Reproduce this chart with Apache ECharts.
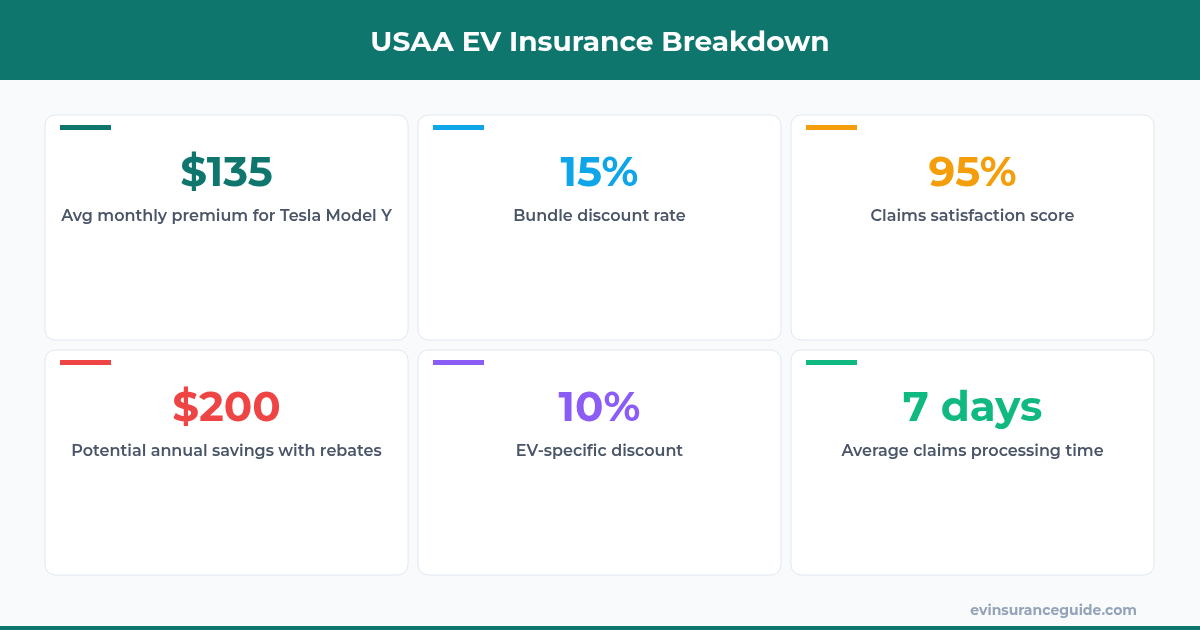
<!DOCTYPE html>
<html>
<head>
<meta charset="utf-8">
<script src="https://cdn.jsdelivr.net/npm/echarts@6/dist/echarts.min.js"></script>
<style>html,body{margin:0;padding:0;background:#f8fafc}#chart{width:1200px;height:630px}</style>
</head>
<body>
<div id="chart"></div>
<script>
const chartTitle = 'USAA EV Insurance Breakdown';
const footerText = 'evinsuranceguide.com';
const metricValues = ['$135', '15%', '95%', '$200', '10%', '7 days'];
const metricLabels = [
  'Avg monthly premium for Tesla Model Y',
  'Bundle discount rate',
  'Claims satisfaction score',
  'Potential annual savings with rebates',
  'EV-specific discount',
  'Average claims processing time'
];
const columnCategories = ['c1', 'c2', 'c3'];
const rowCategories = ['r1', 'r2'];
const accentColors = ['#0f766e', '#0ea5e9', '#f59e0b', '#ef4444', '#8b5cf6', '#10b981'];

const FONT = 'Montserrat, "Open Sans", Lato, sans-serif';
const cardData = metricValues.map((v, i) => [columnCategories[i % 3], rowCategories[Math.floor(i / 3)], i]);

const chart = echarts.init(document.getElementById('chart'), null, { renderer: 'canvas' });
chart.setOption({
  backgroundColor: '#f8fafc',
  animation: false,
  title: [
    { text: chartTitle, left: 'center', top: 24, textStyle: { color: '#ffffff', fontSize: 28, fontWeight: 'bold', fontFamily: FONT } },
    { text: footerText, right: 58, top: 599, textStyle: { color: '#94a3b8', fontSize: 14, fontWeight: 'bold', fontFamily: FONT } }
  ],
  graphic: [
    { type: 'rect', left: 0, top: 0, shape: { width: 1200, height: 80 }, style: { fill: '#0f766e' }, z: 0 },
    { type: 'rect', left: 0, top: 626, shape: { width: 1200, height: 4 }, style: { fill: '#0f766e' }, z: 0 }
  ],
  grid: { left: 40, right: 41, top: 110, bottom: 50 },
  xAxis: { type: 'category', data: columnCategories, show: false },
  yAxis: { type: 'category', data: rowCategories, inverse: true, show: false },
  series: [{
    type: 'custom',
    data: cardData,
    renderItem: function (params, api) {
      const idx = api.value(2);
      const c = api.coord([api.value(0), api.value(1)]);
      const s = api.size([1, 1]);
      const w = s[0] - 10, h = s[1] - 10;
      const x0 = c[0] - w / 2, y0 = c[1] - h / 2;
      const color = accentColors[idx];
      return {
        type: 'group',
        children: [
          { type: 'rect', shape: { x: x0, y: y0, width: w, height: h, r: 10 }, style: { fill: '#ffffff', stroke: '#e2e8f0', lineWidth: 1 } },
          { type: 'rect', shape: { x: x0 + 15, y: y0 + 10, width: 51, height: 5 }, style: { fill: color } },
          { type: 'text', style: { text: metricValues[idx], x: c[0], y: y0 + 58.5, align: 'center', verticalAlign: 'middle', fill: color, fontSize: 42, fontWeight: 'bold', fontFamily: FONT } },
          { type: 'text', style: { text: metricLabels[idx], x: c[0], y: y0 + 101, align: 'center', verticalAlign: 'middle', fill: '#4a5568', fontSize: 16, fontWeight: 600, fontFamily: FONT } }
        ]
      };
    }
  }]
});
</script>
</body>
</html>
